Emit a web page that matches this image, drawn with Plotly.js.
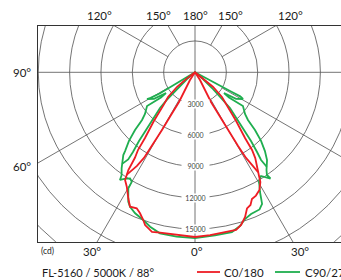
<!DOCTYPE html>
<html><head><meta charset="utf-8">
<script src="https://cdn.plot.ly/plotly-3.0.1.min.js"></script>
<style>html,body{margin:0;padding:0;overflow:hidden;background:#fff}#chart{width:360px;height:280px}</style>
</head><body><div id="chart"></div>
<script>
// ---- data (gamma angle in degrees, negative = left half-plane; intensity in cd) ----
const ringValues = [3000, 6000, 9000, 12000, 15000, 18000, 21000];
const ringLabels = ['3000', '6000', '9000', '12000', '15000'];
const spokeAngles = [30, 60, 120, 150];
const topLabels = ['120°', '150°', '180°', '150°', '120°'];
const sideLabels = ['90°', '60°'];
const bottomLabels = ['30°', '0°', '30°'];
const unitLabel = '(cd)';
const titleText = 'FL-5160 / 5000K / 88°';
const seriesNames = ['C0/180', 'C90/270'];

const redMainTheta = [-52,-53,-51,-47.5,-44,-40.1,-37.3,-36.3,-35.1,-34.3,-33,-30.8,-27.9,-25.8,-23.2,-21.3,-19.3,-18.1,-16.7,-15.1,-12.3,-6.4,0,5.3,10.6,14.6,16.8,19.1,20.9,22.7,24.2,26.3,28.7,30.8,31.7,32.9,35.1,36.3,37.3,40.1,44,47.5,51,53,52];
const redMainCd = [0,1000,2200,3500,4300,6130,7900,9200,10000,11320,12290,12750,13640,14290,14160,14480,14980,15380,15580,15820,15700,15670,15760,15640,15600,15590,15260,14650,13950,13760,13290,13160,12840,12220,11660,10940,10030,9220,7900,6130,4310,3500,2200,1000,0];
const redInnerTheta = [-33.7,-31.8,-30.8,-30.3,-29.8,-29.3,-28.3,-29.2,-33,0,33,29.2,28.3,29.3,29.8,30.3,30.8,31.8,32.3];
const redInnerCd = [11800,10540,9540,8170,6360,4690,3230,2160,880,0,880,2160,3230,4690,6360,8170,9540,10540,11300];

const greenMainTheta = [-60,-59.5,-59,-59,-60,-60.9,-57,-54.5,-53.5,-54.7,-54.9,-50.2,-48,-46.1,-43.9,-41.6,-40.9,-37.4,-35.5,-34.9,-33.2,-31.5,-30,-29.9,-27.3,-25.8,-23,-19.3,-16.2,-12.3,-6.4,0,
  7,13,16.3,18.8,21.6,25.2,27,28.5,30.5,32.5,34.1,35.4,35,36.2,39.4,41.6,43.9,46.1,48,50.2,54.9,54.7,53.5,54.5,57,60.9,62,62,62.5,63,63];
const greenMainCd = [0,1300,2600,3900,4900,5257,4680,3410,4050,4920,5610,6230,6820,7965,9115,10080,10480,11560,12100,12560,12150,11900,12100,12800,13930,14290,14660,14980,15390,15770,15830,15860,
  15730,15690,15330,14830,14580,14505,14140,13035,12070,11765,12105,12470,12000,11585,10860,10080,9115,7965,6820,6230,5610,4920,4050,3410,4680,5257,4900,3900,2600,1300,0];
const greenInnerTheta = [-38.5,-37.5,-37.9,-39.2,-40.3,-42.1,-44.4,-45.6,-47.3,-50,0,50,47.3,45.6,44.4,42.1,40.3,39.2,37.9,37,37.2];
const greenInnerCd = [11200,10505,9665,8480,7245,5895,4785,3750,2215,1000,0,1000,2215,3750,4785,5895,7245,8480,9665,10505,11350];

const RED = '#ee1c24', GREEN = '#1fae4f', GRID = '#505050';
const FONT = 'Lato, "Liberation Sans", Arial, sans-serif';

// polar (gamma from nadir) -> cartesian
const rad = d => d * Math.PI / 180;
function toXY(th, cd) {
  return { x: th.map((t, i) => cd[i] * Math.sin(rad(t))), y: th.map((t, i) => -cd[i] * Math.cos(rad(t))) };
}
function curve(th, cd, color, name) {
  const p = toXY(th, cd);
  return { type: 'scatter', mode: 'lines', x: p.x, y: p.y, name: name, showlegend: false,
    line: { color: color, width: 1.8 }, hoverinfo: 'skip' };
}
const traces = [
  curve(greenMainTheta, greenMainCd, GREEN, seriesNames[1]),
  curve(greenInnerTheta, greenInnerCd, GREEN, seriesNames[1]),
  curve(redMainTheta, redMainCd, RED, seriesNames[0]),
  curve(redInnerTheta, redInnerCd, RED, seriesNames[0])
];

// geometry of plot box (px)
const L = 38, R = 352, T = 26, B = 242, W = 360, H = 280;
const cdPerPx = 95.7;
const cx = 195, cy = 72.3;
const xr = [(L - cx) * cdPerPx, (R - cx) * cdPerPx];
const yr = [-(B - cy) * cdPerPx, (cy - T) * cdPerPx];

const shapes = [];
ringValues.forEach(r => shapes.push({ type: 'circle', xref: 'x', yref: 'y', x0: -r, x1: r, y0: -r, y1: r,
  line: { color: GRID, width: 0.8 }, layer: 'below' }));
const FAR = 60000;
spokeAngles.forEach(a => [-1, 1].forEach(s => shapes.push({ type: 'line', xref: 'x', yref: 'y',
  x0: s * 3000 * Math.sin(rad(a)), y0: -3000 * Math.cos(rad(a)),
  x1: s * FAR * Math.sin(rad(a)), y1: -FAR * Math.cos(rad(a)),
  line: { color: GRID, width: 0.8 }, layer: 'below' })));
shapes.push({ type: 'line', xref: 'x', yref: 'y', x0: 0, x1: 0, y0: -FAR, y1: FAR, line: { color: GRID, width: 0.8 }, layer: 'below' });
shapes.push({ type: 'line', xref: 'x', yref: 'y', x0: -FAR, x1: FAR, y0: 0, y1: 0, line: { color: GRID, width: 0.8 }, layer: 'below' });

const px = v => (v - L) / (R - L), py = v => (B - v) / (B - T);
function ann(text, x, y, size, anchor, color) {
  return { text: text, xref: 'paper', yref: 'paper', x: px(x), y: py(y), xanchor: anchor || 'center', yanchor: 'middle',
    showarrow: false, font: { family: FONT, size: size, color: color || '#1a1a1a' } };
}
const annotations = [];
const topX = [99, 158, 195, 230.5, 290];
topLabels.forEach((t, i) => annotations.push(ann(t, topX[i], 15.7, 11.5)));
const sideY = [72.3, 166];
sideLabels.forEach((t, i) => annotations.push(ann(t, 21.5, sideY[i], 11.5)));
const botX = [92, 197, 300];
bottomLabels.forEach((t, i) => annotations.push(ann(t, botX[i], 251, 11.5)));
annotations.push(ann(unitLabel, 47.5, 251.5, 8.5));
annotations.push(ann(titleText, 40, 272, 11, 'left'));
annotations.push(ann(seriesNames[0], 222, 272, 11.5, 'left'));
annotations.push(ann(seriesNames[1], 303, 272, 11.5, 'left'));
ringLabels.forEach((t, i) => annotations.push({ text: t, xref: 'x', yref: 'y', x: 0, y: -ringValues[i],
  xanchor: 'center', yanchor: 'middle', showarrow: false, bgcolor: '#ffffff', borderpad: 0, width: 27,
  font: { family: FONT, size: 7, color: '#444' } }));

// legend line samples
shapes.push({ type: 'line', xref: 'paper', yref: 'paper', x0: px(197), x1: px(220), y0: py(272), y1: py(272), line: { color: RED, width: 1.8 } });
shapes.push({ type: 'line', xref: 'paper', yref: 'paper', x0: px(275), x1: px(300), y0: py(272), y1: py(272), line: { color: GREEN, width: 1.8 } });

const axisBase = { showgrid: false, zeroline: false, showticklabels: false, ticks: '', showline: true, mirror: true,
  linecolor: '#333', linewidth: 1, fixedrange: true };
const layout = {
  width: W, height: H, margin: { l: L, r: W - R, t: T, b: H - B },
  paper_bgcolor: '#fff', plot_bgcolor: '#fff', showlegend: false,
  xaxis: Object.assign({ range: xr }, axisBase),
  yaxis: Object.assign({ range: yr }, axisBase),
  shapes: shapes, annotations: annotations
};
Plotly.newPlot('chart', traces, layout, { displayModeBar: false, staticPlot: true });
</script></body></html>
